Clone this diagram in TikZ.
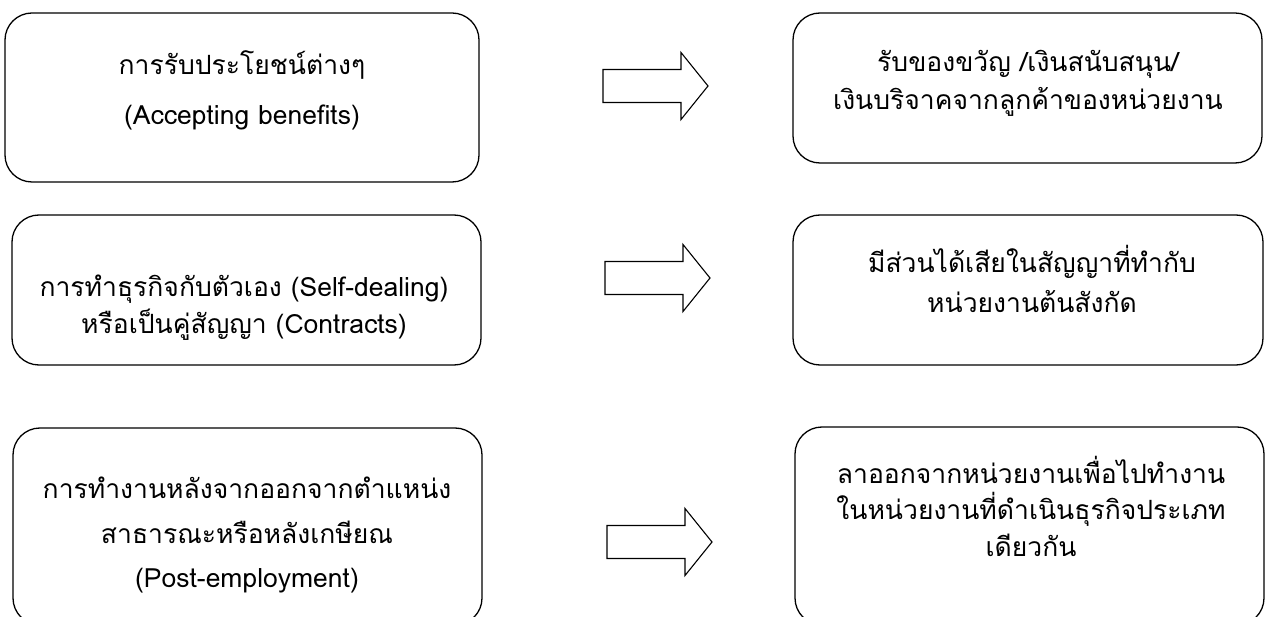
\documentclass[tikz,border=0pt]{standalone}
\usepackage{fontspec}
\setmainfont[Script=Thai]{Loma}
\begin{document}
\begin{tikzpicture}[x=1pt,y=-1pt,
  box/.style={draw, line width=1.3pt, rounded corners=27pt, inner sep=0pt},
  txt/.style={anchor=base, inner sep=0pt, font=\fontsize{26.5}{32}\selectfont},
  blockarrow/.pic={\draw[line width=1.1pt, line join=miter]
     (0,-16.5) -- (78,-16.5) -- (78,-33.5) -- (105,0) -- (78,33.5) -- (78,16.5) -- (0,16.5) -- cycle;}]
\useasboundingbox (0,0) rectangle (1274,617);
\clip (0,0) rectangle (1274,617);
% left boxes
\node[box, minimum width=474pt, minimum height=169pt] (L1) at (242,97.5) {};
\node[box, minimum width=469pt, minimum height=150pt] (L2) at (246.5,290) {};
\node[box, minimum width=469pt, minimum height=197pt] (L3) at (247.5,526.5) {};
% right boxes
\node[box, minimum width=469pt, minimum height=150pt] (R1) at (1027.5,88) {};
\node[box, minimum width=470pt, minimum height=150pt] (R2) at (1028,290) {};
\node[box, minimum width=469pt, minimum height=198pt] (R3) at (1029.5,526) {};
% texts
\node[txt] (l1a) at (242,75) {การรับประโยชน์ต่างๆ};
\node[txt] (l1b) at (242,125) {(Accepting benefits)};
\node[txt] (l2a) at (244,297) {การทำธุรกิจกับตัวเอง (Self-dealing)};
\node[txt] (l2b) at (244,334) {หรือเป็นคู่สัญญา (Contracts)};
\node[txt] (l3a) at (247,498) {การทำงานหลังจากออกจากตำแหน่ง};
\node[txt] (l3b) at (247,543) {สาธารณะหรือหลังเกษียณ};
\node[txt] (l3c) at (247,587) {(Post-employment)};
\node[txt] (r1a) at (1028,72) {รับของขวัญ /เงินสนับสนุน/};
\node[txt] (r1b) at (1028,110) {เงินบริจาคจากลูกค้าของหน่วยงาน};
\node[txt] (r2a) at (1032,273) {มีส่วนได้เสียในสัญญาที่ทำกับ};
\node[txt] (r2b) at (1032,313) {หน่วยงานต้นสังกัด};
\node[txt] (r3a) at (1031,483) {ลาออกจากหน่วยงานเพื่อไปทำงาน};
\node[txt] (r3b) at (1031,519) {ในหน่วยงานที่ดำเนินธุรกิจประเภท};
\node[txt] (r3c) at (1031,556) {เดียวกัน};
% block arrows
\coordinate (a1) at (603,86);
\coordinate (a2) at (605,278);
\coordinate (a3) at (607,542);
\pic at (a1) {blockarrow};
\pic at (a2) {blockarrow};
\pic at (a3) {blockarrow};
\end{tikzpicture}
\end{document}
